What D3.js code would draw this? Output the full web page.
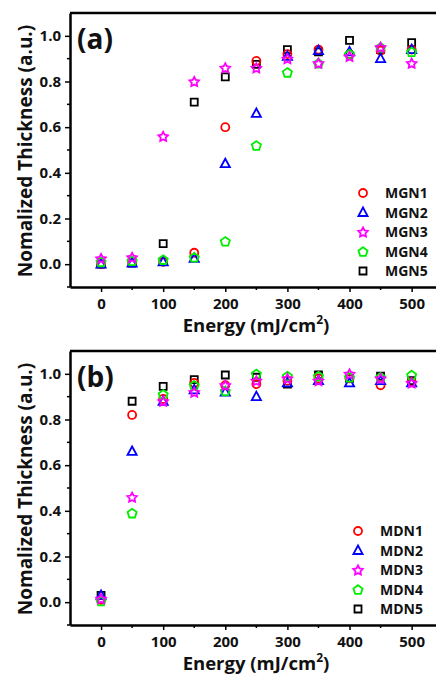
<!DOCTYPE html>
<html>
<head>
<meta charset="utf-8">
<script src="https://cdn.jsdelivr.net/npm/d3@7"></script>
<style>
body { margin: 0; background: #fff; }
text { font-family: "Open Sans", sans-serif; font-weight: bold; fill: #111; }
</style>
</head>
<body>
<svg width="436" height="675"></svg>
<script>
var energy = [0, 50, 100, 150, 200, 250, 300, 350, 400, 450, 500];

// panel (a)
var mgnNames = ["MGN1", "MGN2", "MGN3", "MGN4", "MGN5"];
var mgn1 = [0.0, 0.01, 0.01, 0.05, 0.60, 0.89, 0.92, 0.94, 0.92, 0.935, 0.94];
var mgn2 = [0.0, 0.005, 0.01, 0.025, 0.44, 0.66, 0.91, 0.935, 0.93, 0.90, 0.94];
var mgn3 = [0.025, 0.03, 0.56, 0.80, 0.86, 0.86, 0.90, 0.88, 0.91, 0.95, 0.88];
var mgn4 = [0.01, 0.015, 0.02, 0.03, 0.10, 0.52, 0.84, 0.88, 0.92, 0.95, 0.93];
var mgn5 = [0.0, 0.005, 0.09, 0.71, 0.82, 0.875, 0.94, 0.93, 0.98, 0.94, 0.97];

// panel (b)
var mdnNames = ["MDN1", "MDN2", "MDN3", "MDN4", "MDN5"];
var mdn1 = [0.01, 0.82, 0.89, 0.96, 0.95, 0.955, 0.97, 0.98, 0.98, 0.95, 0.965];
var mdn2 = [0.03, 0.66, 0.88, 0.93, 0.92, 0.90, 0.96, 0.97, 0.96, 0.97, 0.96];
var mdn3 = [0.015, 0.46, 0.88, 0.92, 0.95, 0.97, 0.98, 0.97, 1.0, 0.98, 0.96];
var mdn4 = [0.005, 0.39, 0.91, 0.95, 0.925, 1.0, 0.99, 0.99, 0.985, 0.985, 0.995];
var mdn5 = [0.03, 0.88, 0.945, 0.975, 0.995, 0.985, 0.955, 0.995, 0.98, 0.99, 0.97];

var xTicks = [0, 100, 200, 300, 400, 500];
var yTicks = [0.0, 0.2, 0.4, 0.6, 0.8, 1.0];

var shapes = ["circle", "triangle", "star", "pentagon", "square"];
var colors = ["#ff0000", "#0000ff", "#ff00ff", "#00ee00", "#000000"];
var drawOrder = [4, 0, 1, 3, 2];

var svg = d3.select("svg");

function shapePath(type) {
	var p = d3.path();
	if (type == "circle") {
		p.arc(0, 0, 4, 0, 2 * Math.PI);
	} else if (type == "square") {
		p.rect(-3.5, -3.5, 7, 7);
	} else if (type == "triangle") {
		p.moveTo(0, -5); p.lineTo(4.6, 3.5); p.lineTo(-4.6, 3.5); p.closePath();
	} else if (type == "pentagon") {
		for (var i = 0; i < 5; i++) {
			var a = -Math.PI / 2 + i * 2 * Math.PI / 5;
			if (i == 0) p.moveTo(4.8 * Math.cos(a), 4.8 * Math.sin(a) + 0.5);
			else p.lineTo(4.8 * Math.cos(a), 4.8 * Math.sin(a) + 0.5);
		}
		p.closePath();
	} else if (type == "star") {
		for (var j = 0; j < 10; j++) {
			var b = -Math.PI / 2 + j * Math.PI / 5;
			var r = j % 2 == 0 ? 5 : 2.6;
			if (j == 0) p.moveTo(r * Math.cos(b), r * Math.sin(b) + 0.5);
			else p.lineTo(r * Math.cos(b), r * Math.sin(b) + 0.5);
		}
		p.closePath();
	}
	return p.toString();
}

function drawPanel(top, tag, names, series, legX) {
	var left = 70, right = 442.7, bottom = top + 274;
	var x = d3.scaleLinear().domain([-50, 550]).range([left, right]);
	var y = d3.scaleLinear().domain([-0.1, 1.1]).range([bottom, top]);
	var g = svg.append("g");

	// minor ticks
	g.selectAll(".xminor").data([50, 150, 250, 350, 450]).enter().append("line")
		.attr("x1", function (d) { return x(d); }).attr("x2", function (d) { return x(d); })
		.attr("y1", bottom).attr("y2", bottom + 3)
		.attr("stroke", "#000").attr("stroke-width", 1.5);
	g.selectAll(".yminor").data([-0.1, 0.1, 0.3, 0.5, 0.7, 0.9]).enter().append("line")
		.attr("y1", function (d) { return y(d); }).attr("y2", function (d) { return y(d); })
		.attr("x1", left).attr("x2", left - 3)
		.attr("stroke", "#000").attr("stroke-width", 1.5);

	var xAxis = g.append("g").attr("transform", "translate(0," + bottom + ")")
		.call(d3.axisBottom(x).tickValues(xTicks).tickSize(5).tickSizeOuter(0).tickPadding(6));
	var yAxis = g.append("g").attr("transform", "translate(" + left + ",0)")
		.call(d3.axisLeft(y).tickValues(yTicks).tickSize(5).tickSizeOuter(0).tickPadding(4)
			.tickFormat(d3.format(".1f")));
	[xAxis, yAxis].forEach(function (a) {
		a.select(".domain").attr("stroke", "#000").attr("stroke-width", 2.5);
		a.selectAll(".tick line").attr("stroke", "#000").attr("stroke-width", 1.5);
		a.selectAll(".tick text").attr("font-size", 15).attr("font-family", "'Open Sans', sans-serif")
			.attr("font-weight", "bold").attr("fill", "#111");
	});

	// top frame line
	g.append("line").attr("x1", left).attr("x2", right).attr("y1", top).attr("y2", top)
		.attr("stroke", "#000").attr("stroke-width", 2.5);

	// axis titles
	g.append("text").attr("transform", "translate(32," + ((top + bottom) / 2 + 1) + ") rotate(-90)")
		.attr("text-anchor", "middle").attr("font-size", 19)
		.text("Nomalized Thickness (a.u.)");
	var xl = g.append("text").attr("x", 256).attr("y", bottom + 45)
		.attr("text-anchor", "middle").attr("font-size", 18.5);
	xl.append("tspan").text("Energy (mJ/cm");
	xl.append("tspan").attr("dy", -8).attr("font-size", 12).text("2");
	xl.append("tspan").attr("dy", 8).text(")");

	g.append("text").attr("x", 77).attr("y", top + 36).attr("font-size", 28).text(tag);

	// points
	drawOrder.forEach(function (k) {
		g.selectAll(".pt" + k).data(energy).enter().append("path")
			.attr("d", shapePath(shapes[k]))
			.attr("transform", function (d, i) { return "translate(" + x(d) + "," + y(series[k][i]) + ")"; })
			.attr("fill", "none").attr("stroke", colors[k]).attr("stroke-width", 1.8);
	});

	// legend
	var leg = g.selectAll(".leg").data(names).enter().append("g")
		.attr("transform", function (d, i) { return "translate(" + legX + "," + (top + 180 + i * 19.5) + ")"; });
	leg.append("path").attr("d", function (d, i) { return shapePath(shapes[i]); })
		.attr("fill", "none").attr("stroke", function (d, i) { return colors[i]; }).attr("stroke-width", 1.8);
	leg.append("text").attr("x", 22).attr("y", 5).attr("font-size", 14).text(function (d) { return d; });
}

drawPanel(13, "(a)", mgnNames, [mgn1, mgn2, mgn3, mgn4, mgn5], 363);
drawPanel(351, "(b)", mdnNames, [mdn1, mdn2, mdn3, mdn4, mdn5], 358);
</script>
</body>
</html>
